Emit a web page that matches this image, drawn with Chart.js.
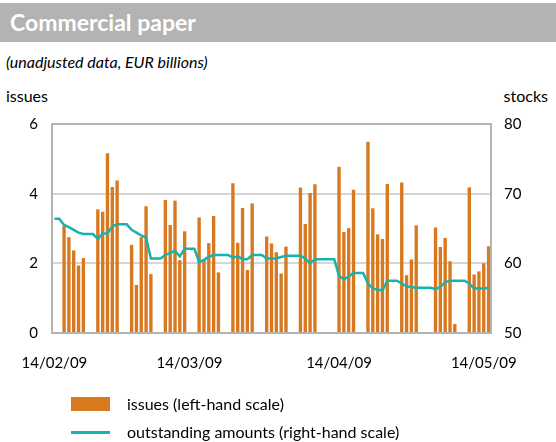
<!DOCTYPE html>
<html lang="en">
  <head>
    <meta charset="UTF-8" />
    <title>Commercial paper</title>
    <script src="https://cdn.jsdelivr.net/npm/chart.js"></script>
    <style>
      body {
        margin: 0;
        width: 556px;
        height: 442px;
        background: #fff;
        font-family: Lato, "Open Sans", sans-serif;
        color: #000;
        position: relative;
        overflow: hidden;
      }
      .title-bar {
        position: absolute;
        left: 0;
        top: 3px;
        width: 556px;
        height: 39px;
        background: #b3b3b3;
        color: #fff;
        font-weight: bold;
        font-size: 23px;
        line-height: 39px;
        padding-left: 10px;
        box-sizing: border-box;
      }
      .subtitle {
        position: absolute;
        left: 6px;
        top: 52px;
        font-size: 16px;
        font-style: italic;
      }
      .axis-name {
        position: absolute;
        top: 86px;
        font-size: 16px;
      }
      #chart-box {
        position: absolute;
        left: 0;
        top: 0;
        width: 556px;
        height: 442px;
      }
      .legend {
        position: absolute;
        left: 71px;
        font-size: 16px;
      }
      .legend .key {
        position: absolute;
        left: 0;
        width: 39px;
      }
      .legend span.text {
        position: absolute;
        left: 56px;
        white-space: nowrap;
      }
    </style>
  </head>
  <body>
    <div class="title-bar">Commercial paper</div>
    <div class="subtitle">(unadjusted data, EUR billions)</div>
    <div class="axis-name" style="left: 6px">issues</div>
    <div class="axis-name" style="right: 8px">stocks</div>

    <div id="chart-box"><canvas id="cpChart" width="556" height="442"></canvas></div>

    <div class="legend" style="top: 397px">
      <div class="key" style="top: 0; height: 14px; background: #d9791f"></div>
      <span class="text" style="top: -3px">issues (left-hand scale)</span>
    </div>
    <div class="legend" style="top: 423px">
      <div class="key" style="top: 8px; height: 2.5px; background: #16b3ad"></div>
      <span class="text" style="top: -1px">outstanding amounts (right-hand scale)</span>
    </div>

    <script>
      // calendar days 14/02/09 .. 15/05/09
      const days = [];
      for (let d = new Date(2009, 1, 14); d <= new Date(2009, 4, 15); d.setDate(d.getDate() + 1)) {
        const dd = String(d.getDate()).padStart(2, "0");
        const mm = String(d.getMonth() + 1).padStart(2, "0");
        days.push(dd + "/" + mm + "/09");
      }

      const tickLabels = ["14/02/09", "14/03/09", "14/04/09", "14/05/09"];

      // issues, EUR billions (null = weekend / holiday)
      const issues = [
        null, null,
        3.08, 2.75, 2.37, 1.94, 2.15, null, null,
        3.55, 3.48, 5.16, 4.19, 4.38, null, null,
        2.53, 1.38, 2.75, 3.64, 1.69, null, null,
        3.82, 3.10, 3.80, 2.09, 2.92, null, null,
        3.32, 2.10, 2.58, 3.36, 1.74, null, null,
        4.30, 2.59, 3.59, 1.81, 3.72, null, null,
        2.77, 2.57, 2.32, 1.71, 2.48, null, null,
        4.18, 3.13, 4.02, 4.27, null, null, null,
        null, 4.77, 2.90, 3.01, 4.11, null, null,
        5.49, 3.58, 2.83, 2.70, 4.28, null, null,
        4.32, 1.66, 2.11, 3.09, null, null, null,
        3.03, 2.47, 2.73, 2.06, 0.26, null, null,
        4.18, 1.68, 1.77, 2.00, 2.49,
      ];

      // outstanding amounts, EUR billions
      const stocks = [
        66.4, 66.4,
        65.5, 65.2, 64.8, 64.4, 64.2, 64.2, 64.2,
        63.5, 64.3, 64.3, 65.3, 65.6, 65.6, 65.6,
        64.8, 64.4, 64.0, 63.7, 60.7, 60.7, 60.7,
        61.2, 61.5, 61.8, 61.0, 62.1, 62.1, 62.1,
        60.2, 60.5, 60.95, 61.2, 61.2, 61.2, 61.2,
        60.8, 61.0, 60.6, 60.6, 61.2, 61.2, 61.2,
        60.7, 60.7, 60.7, 60.9, 61.1, 61.1, 61.1,
        61.1, 60.7, 60.0, 60.6, 60.6, 60.6, 60.6,
        60.6, 58.2, 57.7, 58.1, 58.6, 58.6, 58.6,
        57.1, 56.4, 56.2, 56.1, 57.5, 57.5, 57.5,
        57.1, 56.7, 56.6, 56.5, 56.5, 56.5, 56.5,
        56.3, 56.6, 57.3, 57.5, 57.5, 57.5, 57.5,
        57.1, 56.4, 56.4, 56.4, 56.5,
      ];

      const frameColor = "#b3b3b3";
      const gridColor = "#d6d6d6";
      const tickFont = { family: "Lato", size: 15 };

      // grey frame round the plot area
      const frame = {
        id: "frame",
        afterDatasetsDraw(chart) {
          const a = chart.chartArea;
          const c = chart.ctx;
          c.save();
          c.strokeStyle = frameColor;
          c.lineWidth = 2;
          c.strokeRect(a.left, a.top, a.right - a.left, a.bottom - a.top);
          c.restore();
        },
      };

      const ctx = document.getElementById("cpChart").getContext("2d");
      const cpChart = new Chart(ctx, {
        data: {
          labels: days,
          datasets: [
            {
              type: "line",
              label: "outstanding amounts (right-hand scale)",
              data: stocks,
              yAxisID: "yRight",
              borderColor: "#16b3ad",
              borderWidth: 2.5,
              pointRadius: 0,
              tension: 0,
              order: 0,
            },
            {
              type: "bar",
              label: "issues (left-hand scale)",
              data: issues,
              yAxisID: "yLeft",
              backgroundColor: "#d9791f",
              barPercentage: 0.7,
              categoryPercentage: 1,
              order: 1,
            },
          ],
        },
        options: {
          responsive: false,
          animation: false,
          layout: { padding: { top: 124, left: 0, right: 0, bottom: 0 } },
          plugins: {
            legend: { display: false },
            tooltip: { enabled: false },
          },
          scales: {
            x: {
              grid: { display: false, drawTicks: false },
              border: { display: false },
              ticks: {
                autoSkip: false,
                maxRotation: 0,
                minRotation: 0,
                padding: 21,
                color: "#000",
                font: tickFont,
                callback(value) {
                  const l = this.getLabelForValue(value);
                  return tickLabels.includes(l) ? l : "";
                },
              },
              afterFit(scale) {
                scale.height = 109;
              },
            },
            yLeft: {
              position: "left",
              min: 0,
              max: 6,
              ticks: { stepSize: 2, padding: 14, color: "#000", font: tickFont },
              grid: { color: gridColor, lineWidth: 2, drawTicks: false },
              border: { display: false },
              afterFit(scale) {
                scale.width = 52;
              },
            },
            yRight: {
              position: "right",
              min: 50,
              max: 80,
              ticks: { stepSize: 10, padding: 13, color: "#000", font: tickFont },
              grid: { display: false, drawTicks: false },
              border: { display: false },
              afterFit(scale) {
                scale.width = 65;
              },
            },
          },
        },
        plugins: [frame],
      });
    </script>
  </body>
</html>
